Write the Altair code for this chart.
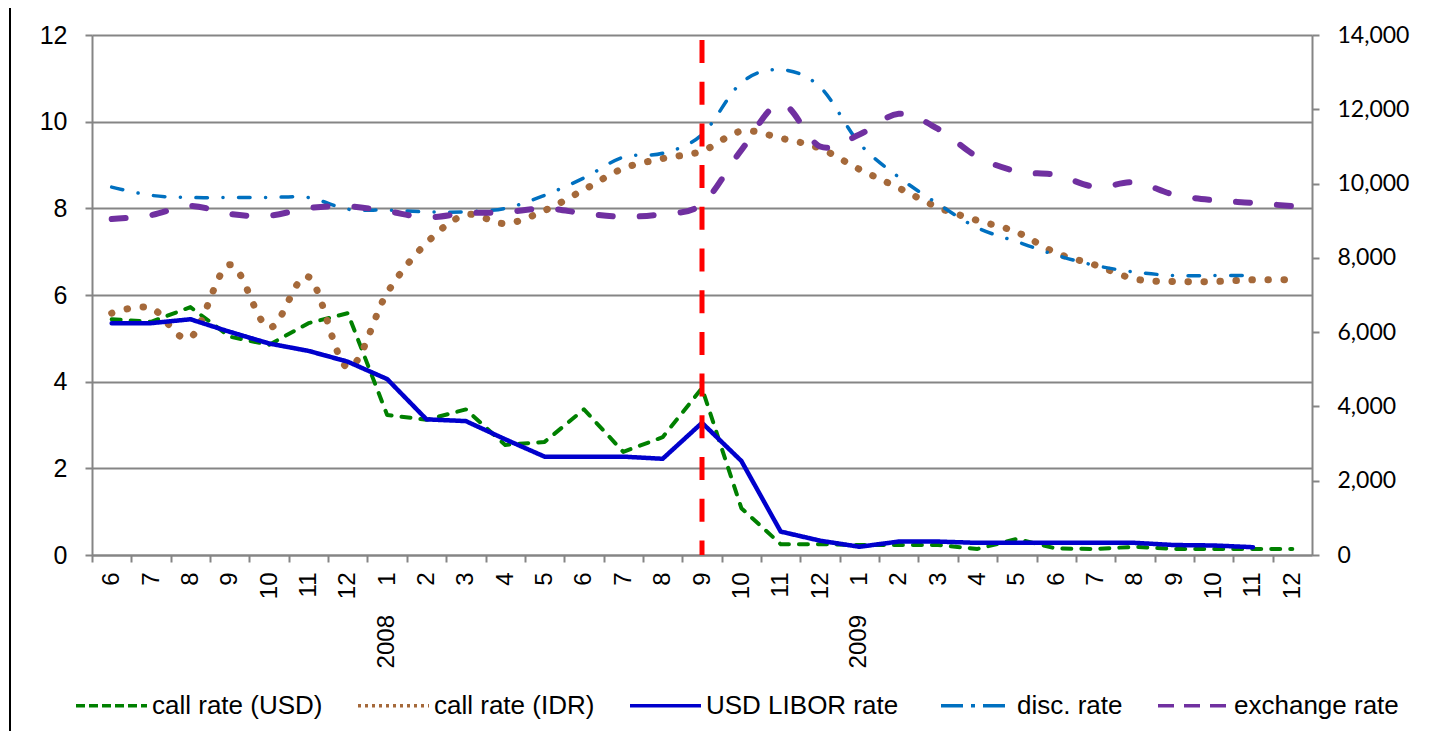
import altair as alt
import pandas as pd

# ---------------- data ----------------
month_labels = ["6", "7", "8", "9", "10", "11", "12",
                "1", "2", "3", "4", "5", "6", "7", "8", "9", "10", "11", "12",
                "1", "2", "3", "4", "5", "6", "7", "8", "9", "10", "11", "12"]
t_index = list(range(len(month_labels)))
year_labels = ["2008", "2009"]
year_pos = [7, 19]
crisis_pos = [15]

call_usd = [5.44, 5.38, 5.72, 5.04, 4.85, 5.35, 5.58, 3.23, 3.12, 3.36, 2.54,
            2.61, 3.36, 2.38, 2.72, 3.85, 1.08, 0.25, 0.25, 0.23, 0.23, 0.23,
            0.14, 0.37, 0.15, 0.14, 0.19, 0.14, 0.14, 0.14, 0.14]
call_idr = [5.58, 5.70, 5.02, 6.70, 5.25, 6.42, 4.33, 6.05, 7.20, 7.85, 7.65,
            7.95, 8.43, 8.92, 9.15, 9.32, 9.78, 9.62, 9.38, 8.90, 8.47, 8.02,
            7.72, 7.45, 6.97, 6.69, 6.37, 6.31, 6.31, 6.35, 6.35]
libor = [5.35, 5.35, 5.44, 5.15, 4.88, 4.71, 4.46, 4.06, 3.13, 3.09, 2.67,
         2.27, 2.27, 2.27, 2.22, 3.05, 2.17, 0.54, 0.33, 0.19, 0.31, 0.31,
         0.28, 0.28, 0.28, 0.28, 0.28, 0.23, 0.22, 0.18, None]
disc_rate = [8.49, 8.30, 8.25, 8.25, 8.25, 8.25, 7.98, 7.96, 7.92, 7.92, 8.00,
             8.30, 8.70, 9.18, 9.27, 9.70, 10.90, 11.20, 10.80, 9.50, 8.72, 8.10,
             7.55, 7.23, 6.92, 6.68, 6.53, 6.45, 6.45, 6.45, None]
exchange = [9045, 9150, 9400, 9180, 9135, 9340, 9390, 9255, 9090, 9200, 9230,
            9330, 9200, 9110, 9180, 9450, 10900, 12150, 11000, 11320, 11880,
            11470, 10720, 10330, 10230, 9910, 10030, 9700, 9550, 9480, 9390]

series_names = ["call rate (USD)", "call rate (IDR)", "USD LIBOR  rate",
                "disc. rate", "exchange rate"]
series_colors = ["#008000", "#A5693A", "#0000CC", "#0070C0", "#7030A0"]
legend_dashes = [[9, 4], [3, 4], [1, 0], [22, 8, 4, 8], [16, 10]]

rows = []
for name, vals in zip(series_names, [call_usd, call_idr, libor, disc_rate, exchange]):
    for t, v in zip(t_index, vals):
        if v is not None:
            rows.append({"series": name, "t": t, "value": v})
df = pd.DataFrame(rows)

# ---------------- layout ----------------
PLOT_W, PLOT_H = 1220, 520
HALF = PLOT_W / len(month_labels) / 2
GRAY = "#858585"
FONT = "Liberation Sans"

label_expr = "[" + ",".join("'%s'" % m for m in month_labels) + "][datum.value]"

x_enc = alt.X(
    "t:Q",
    scale=alt.Scale(domain=[-0.5, len(month_labels) - 0.5], nice=False, zero=False),
    axis=alt.Axis(values=t_index, labelExpr=label_expr, tickOffset=-HALF,
                  labelOffset=HALF, labelAngle=270, labelAlign="right",
                  labelBaseline="middle", labelPadding=10, tickSize=7,
                  title=None, grid=False, labelOverlap=False, labelFontSize=24,
                  labelFont=FONT),
)

y_left = alt.Y(
    "value:Q",
    scale=alt.Scale(domain=[0, 12], nice=False, zero=True),
    axis=alt.Axis(values=[0, 2, 4, 6, 8, 10, 12], grid=True, title=None,
                  tickSize=7, labelPadding=18, labelFontSize=25, labelFont=FONT),
)
y_right = alt.Y(
    "value:Q",
    scale=alt.Scale(domain=[0, 14000], nice=False, zero=True),
    axis=alt.Axis(values=[0, 2000, 4000, 6000, 8000, 10000, 12000, 14000],
                  format=",.0f", orient="right", grid=False, title=None,
                  tickSize=7, labelPadding=18, labelFontSize=23, labelFont="Lato"),
)

legend_def = alt.Legend(
    title=None, orient="none", legendX=-18, legendY=633, direction="horizontal",
    symbolType="stroke", symbolSize=5041, symbolStrokeWidth=3.5,
    labelFontSize=26, labelFont=FONT, labelColor="black", columnPadding=28,
    labelOffset=3, labelLimit=0, padding=0,
)
color_enc = alt.Color("series:N",
                      scale=alt.Scale(domain=series_names, range=series_colors),
                      legend=legend_def)
dash_enc = alt.StrokeDash("series:N",
                          scale=alt.Scale(domain=series_names, range=legend_dashes),
                          legend=legend_def)

base = alt.Chart(df)


def line_layer(name, width, dash, interp, y_enc):
    enc = dict(x=x_enc, y=y_enc, color=color_enc)
    enc["strokeDash"] = dash_enc if dash is None else alt.value(dash)
    return (base.transform_filter(alt.datum.series == name)
            .mark_line(strokeWidth=width, strokeCap="round", strokeJoin="round",
                       interpolate=interp)
            .encode(**enc))


green = line_layer(series_names[0], 4, [9, 10], "linear", y_left)
brown = line_layer(series_names[1], 7, [0.5, 15.5], "cardinal", y_left)
blue = line_layer(series_names[2], 4.5, None, "linear", y_left)
disc = line_layer(series_names[3], 3.5, [11.5, 15.5, 0.1, 15.5], "cardinal", y_left)
purple = line_layer(series_names[4], 6, [14, 27], "cardinal", y_right)

left = alt.layer(green, brown, blue, disc)

red = (alt.Chart(pd.DataFrame({"t": crisis_pos}))
       .mark_rule(color="#FF0000", strokeWidth=5, strokeDash=[23, 18.7])
       .encode(x=x_enc, y=alt.value(5), y2=alt.value(PLOT_H)))

years = (alt.Chart(pd.DataFrame({"t": year_pos, "label": year_labels}))
         .mark_text(angle=270, align="right", baseline="middle", fontSize=24,
                    font=FONT, color="black")
         .encode(x=x_enc, y=alt.value(580), text="label:N"))

# chart-area frame (left edge visible in the reference)
frame = (alt.Chart(pd.DataFrame({"edge": [0]}))
         .mark_rule(color="black", strokeWidth=2, clip=False)
         .encode(x=alt.value(-82), y=alt.value(-40), y2=alt.value(PLOT_H + 200)))

chart = (
    alt.layer(left, purple, red, years, frame)
    .resolve_scale(y="independent")
    .properties(width=PLOT_W, height=PLOT_H,
                padding={"left": 84, "top": 27, "right": 119, "bottom": 176},
                autosize=alt.AutoSizeParams(type="none"),
                background="white")
    .configure_view(stroke=None)
    .configure_axis(domainColor=GRAY, domainWidth=2, tickColor=GRAY, tickWidth=2,
                    gridColor=GRAY, gridWidth=2, labelColor="black")
)

chart.save("out.html", embed_options={"renderer": "svg", "actions": False})
